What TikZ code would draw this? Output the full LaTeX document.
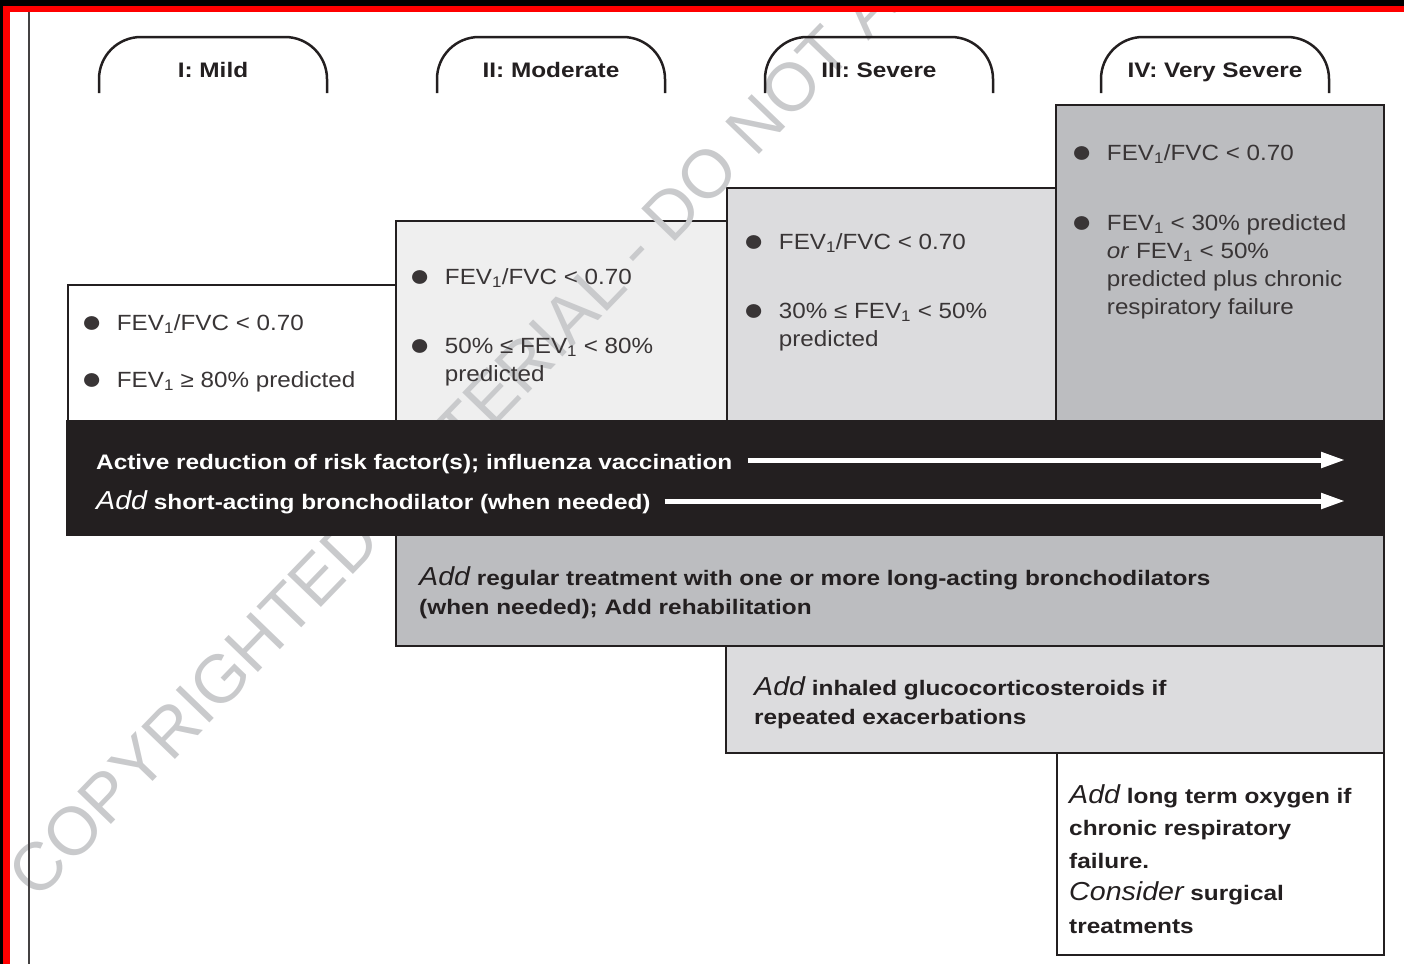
\documentclass[tikz,border=0pt]{standalone}
\usepackage{fontspec}
\setmainfont{Liberation Sans}[FakeStretch=1.1,BoldFeatures={FakeStretch=1.16}]
\newfontfamily\stampfont{Liberation Sans}
\usetikzlibrary{arrows.meta}
\definecolor{ink}{HTML}{231F20}
\definecolor{lightfill}{HTML}{EFEFEF}
\definecolor{midfill}{HTML}{DCDCDE}
\definecolor{darkfill}{HTML}{BCBDC0}
\definecolor{stamp}{HTML}{C9CACC}
\newcommand{\fev}{FEV\textsubscript{1}}
\newcommand{\dotmark}{\raisebox{-2.2pt}{\fontsize{32}{32}\selectfont ●}}
\newcommand{\addit}[1]{{\mdseries\itshape\fontsize{26}{26}\selectfont #1}}
\newenvironment{crits}{\begin{tabular}[t]{@{}l@{\hspace{14.5pt}}l@{}}}{\end{tabular}}
\newenvironment{lines}{\begin{tabular}[t]{@{}l@{}}}{\end{tabular}}
\tikzset{
  stage/.style={draw=ink, line width=2.5pt, rounded corners=42pt},
  box/.style={draw=ink, line width=2pt},
  crit/.style={anchor=base west, text=ink!90, font=\fontsize{22}{28}\selectfont},
  treat/.style={anchor=base west, text=ink, font=\bfseries\fontsize{21}{29}\selectfont},
  wharrow/.style={white, line width=5pt, -{Triangle[length=24pt,width=15pt]}}
}
\begin{document}
\begin{tikzpicture}[x=1pt, y=-1pt, every node/.style={inner sep=0pt}]
  \useasboundingbox (0,0) rectangle (1404,964);
  \draw[box, fill=white] (68,285) rectangle (396,421);
  \draw[box, fill=lightfill] (396,221) rectangle (727,421);
  \draw[box, fill=midfill] (727,188) rectangle (1056,421);
  \draw[box, fill=darkfill] (1056,105) rectangle (1384,421);
  % watermark
  \begin{scope}
    \clip (10,12) rectangle (1404,964);
    \node[rotate=46, anchor=base west, text=stamp, font=\stampfont\fontsize{68}{68}\selectfont] (mark) at (37,902)
      {COPYRIGHTED MATERIAL - DO NOT A};
  \end{scope}
  % stages
  \foreach \x/\name/\label in {99/mild/I: Mild, 437/moderate/II: Moderate,
      765/severe/III: Severe, 1101/vsevere/IV: Very Severe} {
    \draw[stage] (\x,93) -- (\x,37) -- ++(228,0) -- ++(0,56);
    \node[anchor=base, text=ink, font=\bfseries\fontsize{21}{21}\selectfont] (\name) at (\x+114,77.5) {\label};
  }
  % frame
  \fill[black] (0,0) rectangle (1404,6);
  \fill[red] (0,6) rectangle (1404,12);
  \fill[black] (0,0) rectangle (3,964);
  \fill[red] (3,6) rectangle (10,964);
  \draw[ink!85, line width=2pt] (29,12) -- (29,964);
  % treatments
  \draw[box, fill=ink] (67,421) rectangle (1384,535);
  \draw[box, fill=darkfill] (396,535) rectangle (1384,646);
  \draw[box, fill=midfill] (726,646) rectangle (1384,753);
  \draw[box, fill=white] (1057,753) rectangle (1384,955);
  \node[crit] (mildtxt) at (81,330) {\begin{crits}
    \dotmark & \fev/FVC < 0.70\\[29pt]
    \dotmark & \fev{} ≥ 80\% predicted
  \end{crits}};
  \node[crit] (modtxt) at (409,284) {\begin{crits}
    \dotmark & \fev/FVC < 0.70\\[41pt]
    \dotmark & 50\% ≤ \fev{} < 80\%\\
      & predicted
  \end{crits}};
  \node[crit] (sevtxt) at (743,249) {\begin{crits}
    \dotmark & \fev/FVC < 0.70\\[41pt]
    \dotmark & 30\% ≤ \fev{} < 50\%\\
      & predicted
  \end{crits}};
  \node[crit] (vsevtxt) at (1071,160) {\begin{crits}
    \dotmark & \fev/FVC < 0.70\\[42pt]
    \dotmark & \fev{} < 30\% predicted\\
      & \textit{or} \fev{} < 50\%\\
      & predicted plus chronic\\
      & respiratory failure
  \end{crits}};
  \node[treat, text=white] (risk) at (96,469) {Active reduction of risk factor(s); influenza vaccination};
  \node[treat, text=white] (short) at (96,509) {\addit{Add} short-acting bronchodilator (when needed)};
  \coordinate (riskend) at (1345,460);
  \coordinate (shortend) at (1345,501);
  \draw[wharrow] ([xshift=15pt]risk.east |- riskend) -- (riskend);
  \draw[wharrow] ([xshift=14pt]short.east |- shortend) -- (shortend);
  \node[treat] (regular) at (419,585) {\begin{lines}
    \addit{Add} regular treatment with one or more long-acting bronchodilators\\
    (when needed); Add rehabilitation
  \end{lines}};
  \node[treat] (inhaled) at (754,695) {\begin{lines}
    \addit{Add} inhaled glucocorticosteroids if\\
    repeated exacerbations
  \end{lines}};
  \node[treat, font=\bfseries\fontsize{21}{32.5}\selectfont] (oxygen) at (1069,803) {\begin{lines}
    \addit{Add} long term oxygen if\\
    chronic respiratory\\
    failure.\\
    \addit{Consider} surgical\\
    treatments
  \end{lines}};
\end{tikzpicture}
\end{document}
